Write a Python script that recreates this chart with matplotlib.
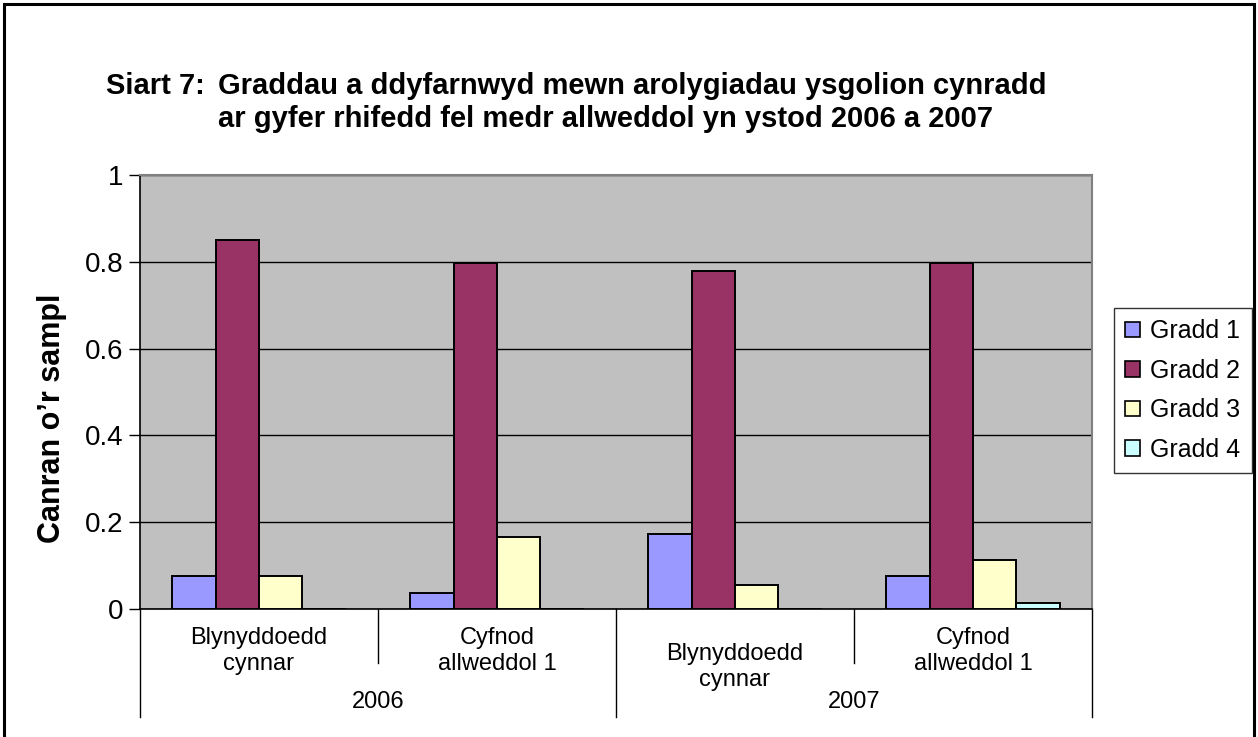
import numpy as np
import matplotlib.pyplot as plt
import matplotlib.transforms as mtransforms
from matplotlib.patches import Rectangle, Patch

plt.rcParams['font.family'] = ['Liberation Sans', 'DejaVu Sans']

# ==== #
# Data #
# ==== #

groups = ['Blynyddoedd\ncynnar', 'Cyfnod\nallweddol 1', 'Blynyddoedd\ncynnar', 'Cyfnod\nallweddol 1']
years = ['2006', '2007']
series = ['Gradd 1', 'Gradd 2', 'Gradd 3', 'Gradd 4']
gradd1 = [0.077, 0.037, 0.172, 0.077]
gradd2 = [0.851, 0.797, 0.779, 0.797]
gradd3 = [0.077, 0.167, 0.055, 0.114]
gradd4 = [0.0, 0.0, 0.0, 0.014]
colors = ['#9999FF', '#993366', '#FFFFCC', '#CCFFFF']

W, H = 1258, 737
fig = plt.figure(figsize=(W / 100, H / 100), dpi=100)

# plot area in pixels: x 140..1092, y 175..609
px_l, px_r, px_t, px_b = 140, 1092, 175, 609
ax = fig.add_axes([px_l / W, 1 - px_b / H, (px_r - px_l) / W, (px_b - px_t) / H])
ax.set_facecolor('#C0C0C0')

def fy(y):
    # pixel y -> axes fraction
    return (px_b - y) / (px_b - px_t)

x = np.arange(len(groups))
bw = 0.182
vals = [gradd1, gradd2, gradd3, gradd4]
for i, v in enumerate(vals):
    ax.bar(x + (i - 1.5) * bw, v, width=bw, color=colors[i],
           edgecolor='black', linewidth=1.4, zorder=3, label=series[i])

ax.set_xlim(-0.5, len(groups) - 0.5)
ax.set_ylim(0, 1)
ax.set_yticks([0, 0.2, 0.4, 0.6, 0.8, 1])
ax.set_yticklabels(['0', '0.2', '0.4', '0.6', '0.8', '1'], fontsize=20)
ax.tick_params(axis='y', length=8, width=1, direction='out', pad=4)
ax.set_xticks([])
ax.yaxis.grid(True, color='black', linewidth=1)
ax.set_axisbelow(True)

for s in ['top', 'right']:
    ax.spines[s].set_color('#808080')
    ax.spines[s].set_linewidth(1.5)
for s in ['left', 'bottom']:
    ax.spines[s].set_color('black')
    ax.spines[s].set_linewidth(1.2)

# category axis labels (2007 "Blynyddoedd" sits a bit lower)
trans = mtransforms.blended_transform_factory(ax.transData, ax.transAxes)
label_y = [651, 651, 667, 651]
for i, g in enumerate(groups):
    ax.text(i, fy(label_y[i]), g, transform=trans, ha='center', va='center',
            fontsize=17, linespacing=1.2)

for i, yr in enumerate(years):
    ax.text(2 * i + 0.5, fy(702), yr, transform=trans, ha='center', va='center', fontsize=17)

# separators
for xs in [0.5, 2.5]:
    ax.plot([xs, xs], [0, fy(663)], transform=trans, color='black', lw=1, clip_on=False)
for xs in [-0.5, 1.5, 3.5]:
    ax.plot([xs, xs], [0, fy(717)], transform=trans, color='black', lw=1, clip_on=False)

# y label
fig.text(52 / W, 1 - 418 / H, 'Canran o\u2019r sampl', rotation=90, ha='center', va='center',
         fontsize=22, fontweight='bold')

# title
fig.text(106 / W, 1 - 86 / H, 'Siart 7:', ha='left', va='center', fontsize=21, fontweight='bold')
fig.text(218 / W, 1 - 86 / H, 'Graddau a ddyfarnwyd mewn arolygiadau ysgolion cynradd',
         ha='left', va='center', fontsize=21, fontweight='bold')
fig.text(218 / W, 1 - 119 / H, 'ar gyfer rhifedd fel medr allweddol yn ystod 2006 a 2007',
         ha='left', va='center', fontsize=21, fontweight='bold')

# legend
handles = [Patch(facecolor=c, edgecolor='black', linewidth=1.2) for c in colors]
leg = fig.legend(handles, series, loc='upper left', bbox_to_anchor=(1114 / W, 1 - 308 / H),
                 fontsize=18, frameon=True, fancybox=False, handlelength=0.6, handleheight=0.6,
                 handletextpad=0.4, labelspacing=0.62, borderpad=0.45, borderaxespad=0)
leg.get_frame().set_edgecolor('black')
leg.get_frame().set_linewidth(1)

# outer border (bottom is cut off)
fig.add_artist(Rectangle((4 / W, -0.05), (W - 8) / W, 1.05 - 4 / H, transform=fig.transFigure,
                         fill=False, edgecolor='black', linewidth=2.2, clip_on=False))

fig.savefig('out.png', dpi=100)
